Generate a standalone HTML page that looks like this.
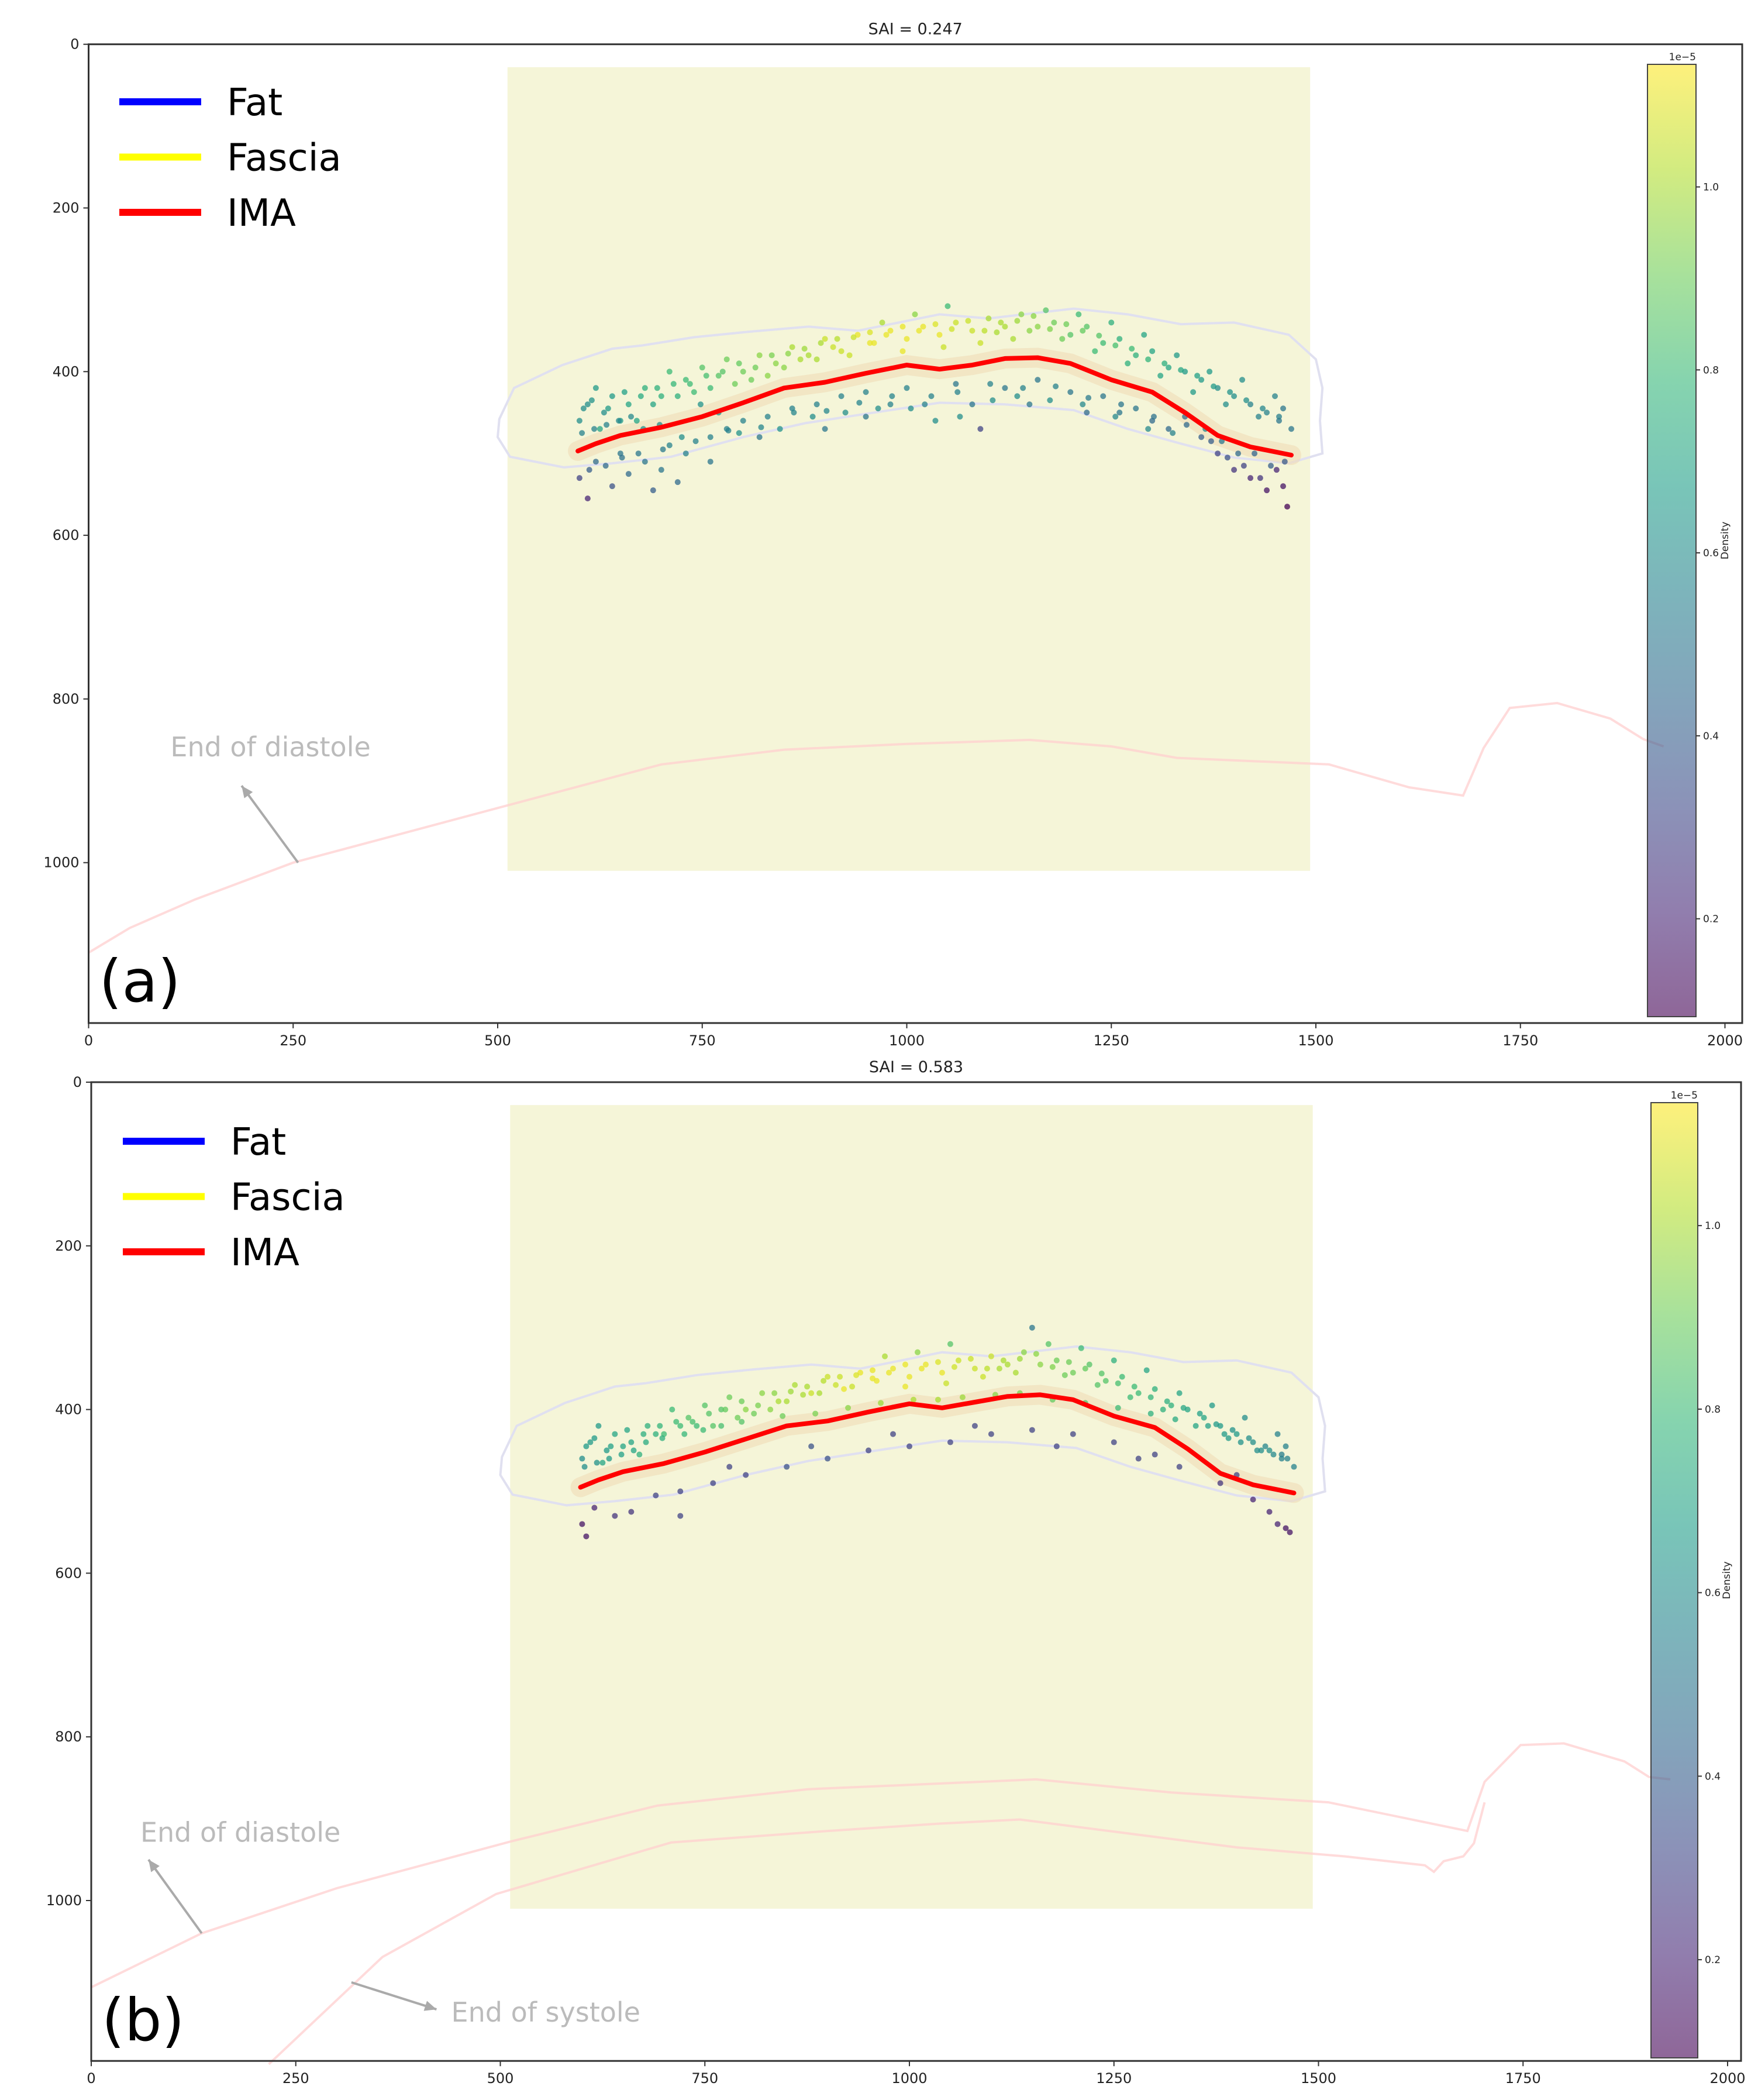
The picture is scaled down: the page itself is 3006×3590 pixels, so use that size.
<!DOCTYPE html>
<html><head><meta charset="utf-8"><style>
html,body{margin:0;padding:0;background:#fff;}
svg{display:block;font-family:"DejaVu Sans","Liberation Sans",sans-serif;}
</style></head><body>
<svg id="fig" width="3006" height="3590" viewBox="0 0 3006 3590" xmlns="http://www.w3.org/2000/svg"></svg>
<script>
// ---------- data ----------
const xTicks=[0,250,500,750,1000,1250,1500,1750,2000];
const yTicks=[0,200,400,600,800,1000];
const cbTicks=[0.2,0.4,0.6,0.8,1.0];
const cbRange=[0.093,1.134];
const titles=["SAI = 0.247","SAI = 0.583"];
const legendLabels=["Fat","Fascia","IMA"];
const legendColors=["#0000ff","#ffff00","#ff0000"];
const roiX=[512,1493], roiY=[28,1010];
// IMA line
const imaX=[598,620,650,700,750,800,850,900,950,1000,1040,1080,1120,1160,1200,1250,1300,1340,1380,1420,1470];
const imaYa=[497,488,478,468,455,438,420,413,402,392,397,392,384,383,390,410,425,450,478,492,502];
const imaYb=[495,486,476,466,452,436,420,414,403,393,398,391,384,382,388,408,422,448,478,492,502];
// outer contour
const contX=[502,520,579,640,677,740,810,880,940,1040,1100,1204,1270,1335,1400,1467,1500,1508,1505,1508,1467,1400,1335,1270,1204,1120,1040,960,876,800,712,640,581,515,500];
const contY=[458,420,392,372,368,358,351,345,350,330,335,323,330,342,340,355,385,420,460,500,512,505,488,470,447,440,438,450,463,480,504,512,517,504,480];
// end of diastole line
const diaXa=[0,50,130,250,400,512,700,850,1000,1150,1250,1330,1516,1614,1680,1705,1737,1795,1860,1900,1925];
const diaYa=[1110,1080,1045,1000,960,930,880,862,855,850,858,872,880,908,918,860,811,805,824,849,858];
const diaXb=[0,135,300,512,692,876,1155,1320,1512,1682,1703,1747,1800,1874,1904,1930];
const diaYb=[1106,1040,985,928,884,864,852,868,880,915,855,810,808,830,849,852];
const sysXb=[217,356,495,709,900,1037,1135,1283,1400,1532,1630,1641,1653,1677,1690,1703];
const sysYb=[1200,1069,992,929,915,906,901,920,935,946,957,965,952,946,930,880];
// scatter panel (a)
const aX=[600,610,620,630,640,660,680,700,710,730,750,760,780,800,820,840,860,880,900,920,940,960,980,1000,1020,1040,1060,1080,1100,1120,1140,1160,1180,1200,1220,1240,1260,1280,1300,1320,1340,1360,1380,1400,1420,1440,1460,1470,
650,690,720,770,810,850,890,930,970,1010,1050,1090,1130,1170,1210,1250,1290,1330,1370,1410,1450,
600,610,620,640,650,660,680,700,710,730,760,780,800,830,860,890,920,950,980,1000,1030,1060,1080,1090,1120,1160,1200,1240,1260,1280,1300,1320,1340,1360,1380,1400,1420,1440,1460,1465,900,950,1150,1220,760,820,690,720,
605,625,670,740,790,830,870,910,955,995,1045,1110,1150,1190,1230,1270,1310,1350,1390,1430,1455,
615,635,655,675,695,715,735,755,775,795,815,835,855,875,895,915,935,955,975,995,1015,1035,1055,1075,1095,1115,1135,1155,1175,1195,1215,1235,1255,1275,1295,1315,1335,1355,1375,1395,1415,1435,1455,
612,632,652,672,702,742,782,822,862,902,942,982,1022,1062,1102,1142,1182,1222,1262,1302,1342,1372,1392,1412,1432,1452,
603,618,633,648,663,678,698,725,748,770,795,845,885,925,965,1005,1035,1065,1105,1135,1175,1215,1255,1295,1325,1365,1385,1405,1425,1445,1462];
const aY=[460,440,420,450,430,440,420,430,400,410,395,420,385,400,380,390,370,380,360,375,355,365,350,360,345,355,340,350,335,345,330,345,340,355,345,365,360,380,375,395,400,410,420,430,440,450,445,470,
460,440,430,405,410,395,385,380,340,330,320,365,360,325,330,340,355,380,400,410,430,
530,555,510,540,500,525,510,520,490,500,480,470,460,455,445,440,430,425,440,420,430,415,440,470,420,410,425,430,450,445,460,470,455,480,500,520,530,545,540,565,470,455,440,450,510,480,545,535,
445,470,460,425,415,405,385,370,365,375,370,352,350,360,375,390,405,425,440,455,460,
435,445,425,430,420,415,415,405,400,390,395,380,378,372,365,360,358,352,355,345,350,342,348,338,350,340,338,332,348,342,350,356,368,372,385,390,398,405,418,425,435,445,455,
520,515,505,500,495,485,472,468,450,448,438,430,440,425,415,420,418,432,440,455,465,485,505,515,530,520,
475,470,465,460,455,470,465,480,440,450,475,470,455,450,445,445,460,455,435,430,435,440,455,470,475,470,485,500,500,515,510];
const aD=[.6,.6,.65,.6,.65,.7,.75,.75,.8,.8,.85,.8,.9,.9,.95,.95,1.0,1.0,1.05,1.05,1.1,1.1,1.1,1.1,1.1,1.1,1.05,1.05,1.0,1.0,.95,.95,.9,.85,.85,.8,.75,.75,.7,.7,.65,.65,.6,.6,.55,.55,.5,.5,
.65,.7,.75,.85,.9,.95,1.0,1.05,1.0,.95,.8,1.05,1.0,.85,.8,.75,.7,.65,.65,.6,.55,
.3,.2,.45,.35,.5,.45,.5,.5,.55,.55,.55,.55,.55,.55,.55,.55,.55,.55,.55,.55,.55,.5,.5,.3,.5,.5,.5,.5,.5,.5,.45,.45,.45,.4,.3,.25,.2,.15,.15,.1,.5,.5,.5,.45,.5,.5,.4,.45,
.6,.7,.7,.8,.9,.95,1.0,1.05,1.1,1.1,1.05,1.0,.95,.9,.8,.75,.7,.65,.6,.55,.5,
.62,.65,.68,.72,.75,.78,.8,.82,.85,.88,.9,.92,.95,.98,1.0,1.02,1.05,1.08,1.1,1.1,1.1,1.08,1.06,1.05,1.03,1.0,.98,.95,.93,.9,.88,.85,.82,.8,.77,.74,.71,.68,.65,.62,.6,.57,.54,
.4,.45,.48,.5,.52,.55,.55,.57,.57,.57,.56,.56,.55,.55,.55,.55,.55,.52,.5,.48,.45,.4,.35,.3,.25,.2,
.55,.55,.55,.58,.58,.6,.6,.6,.62,.62,.62,.62,.6,.6,.6,.6,.6,.6,.6,.6,.6,.58,.58,.58,.55,.55,.5,.45,.42,.4,.38];
// scatter panel (b)
const bX=[600,610,620,630,640,660,680,700,710,730,750,760,780,800,820,840,860,880,900,920,940,960,980,1000,1020,1040,1060,1080,1100,1120,1140,1160,1180,1200,1220,1240,1260,1280,1300,1320,1340,1360,1380,1400,1420,1440,1460,1470,
650,690,720,770,810,850,890,930,970,1010,1050,1090,1130,1150,1170,1210,1250,1290,1330,1370,1410,1450,
605,625,670,740,790,830,870,910,955,995,1045,1110,1190,1230,1270,1310,1350,1390,1430,1455,
600,605,615,640,660,690,720,760,800,850,900,950,1000,1050,1100,1150,1200,1250,1300,1330,1380,1420,1440,1460,1465,1400,1450,720,780,880,980,1080,1180,1280,
615,635,655,675,695,715,735,755,775,795,815,835,855,875,895,915,935,955,975,995,1015,1035,1055,1075,1095,1115,1135,1155,1175,1195,1215,1235,1255,1275,1295,1315,1335,1355,1375,1395,1415,1435,1455,
603,618,633,648,663,678,698,725,748,770,795,845,885,925,965,1005,1035,1065,1105,1135,1175,1215,1255,1295,1325,1365,1385,1405,1425,1445,1462];
const bY=[460,440,420,450,430,440,420,430,400,410,395,420,385,400,380,390,370,380,360,375,355,365,350,360,345,355,340,350,335,345,330,345,340,355,345,365,360,380,375,395,400,410,420,430,440,450,445,470,
445,430,420,400,405,390,380,372,335,330,320,360,355,300,320,325,340,352,380,395,410,430,
445,465,455,420,410,400,382,370,362,372,368,350,358,370,385,400,420,435,450,460,
540,555,520,530,525,505,500,490,480,470,460,450,445,440,430,425,430,440,455,470,490,510,525,545,550,480,540,530,470,445,430,420,445,460,
435,445,425,430,420,415,415,405,400,390,395,380,378,372,365,360,358,352,355,345,350,342,348,338,350,340,338,332,348,342,350,356,368,372,385,390,398,405,418,425,435,445,455,
470,465,460,455,450,440,435,430,425,420,415,408,405,398,392,388,388,385,382,380,388,392,398,405,412,420,430,440,450,455,460];
const bD=[.6,.65,.65,.65,.7,.7,.75,.8,.8,.85,.85,.85,.9,.95,.95,1.0,1.0,1.05,1.05,1.1,1.1,1.1,1.1,1.1,1.1,1.1,1.05,1.05,1.05,1.0,.95,.95,.9,.9,.85,.85,.8,.8,.75,.75,.7,.7,.65,.65,.6,.6,.55,.55,
.7,.75,.8,.85,.9,1.0,1.0,1.05,1.0,.95,.85,1.05,1.0,.5,.85,.8,.75,.7,.7,.65,.6,.55,
.65,.7,.75,.8,.9,.95,1.0,1.05,1.1,1.1,1.05,1.0,.9,.85,.8,.75,.7,.65,.6,.55,
.15,.15,.2,.25,.25,.3,.3,.3,.3,.35,.35,.3,.3,.3,.3,.3,.3,.3,.3,.3,.25,.2,.2,.15,.15,.3,.2,.3,.3,.35,.3,.3,.3,.3,
.65,.68,.7,.74,.77,.8,.82,.85,.88,.9,.92,.95,.98,1.0,1.02,1.05,1.08,1.1,1.1,1.1,1.1,1.08,1.06,1.05,1.03,1.0,.98,.95,.93,.9,.88,.85,.82,.8,.77,.74,.71,.68,.65,.62,.6,.57,.54,
.6,.62,.65,.68,.7,.72,.75,.78,.8,.82,.85,.9,.92,.95,.98,1.0,1.0,.98,.95,.92,.88,.85,.8,.75,.72,.68,.65,.62,.6,.58,.55];

// ---------- helpers ----------
const NS="http://www.w3.org/2000/svg";
const svg=document.getElementById('fig');
function mk(tag,attrs,parent){const e=document.createElementNS(NS,tag);for(const k in attrs)e.setAttribute(k,attrs[k]);(parent||svg).appendChild(e);return e;}
const VIR=[[68,1,84],[72,40,120],[62,74,137],[49,104,142],[38,130,142],[31,158,137],[53,183,121],[109,205,89],[180,222,44],[253,231,37]];
function viridis(t){t=Math.max(0,Math.min(1,t));const p=t*(VIR.length-1);const i=Math.min(VIR.length-2,Math.floor(p));const f=p-i;const c=VIR[i].map((v,k)=>Math.round(v+(VIR[i+1][k]-v)*f));return `rgb(${c[0]},${c[1]},${c[2]})`;}
function pathOf(xs,ys,sx,sy){return xs.map((x,i)=>(i?'L':'M')+sx(x).toFixed(1)+','+sy(ys[i]).toFixed(1)).join(' ');}

const panels=[
 {L:151.5,T:75.7,R:2979,cb:[2817,2900,110,1738],tag:"(a)",tagY:1712,sX:aX,sY:aY,sD:aD,imaY:imaYa,leg:[204,174]},
 {L:156,T:1850,R:2977,cb:[2823,2903,1885,3518],tag:"(b)",tagY:3488,sX:bX,sY:bY,sD:bD,imaY:imaYb,leg:[210,1951]}
];
const K=1.399, YMAX=1196;

panels.forEach((P,pi)=>{
  const g=mk('g',{});
  
  
  const sx=v=>P.L+v*K, sy=v=>P.T+v*K;
  const B=sy(YMAX);
  const r=mk('rect',{x:sx(roiX[0]),y:sy(roiY[0]),width:sx(roiX[1])-sx(roiX[0]),height:sy(roiY[1])-sy(roiY[0]),fill:'#f5f5d8'},g);
  
  
  const c=mk('path',{d:pathOf(contX,contY,sx,sy)+' Z',fill:'none',stroke:'#e0e0f0',"stroke-width":4},g);
  
  
  const dx=pi?diaXb:diaXa, dy=pi?diaYb:diaYa;
  const d=mk('path',{d:pathOf(dx,dy,sx,sy),fill:'none',stroke:'#ffcfcf',"stroke-width":4,opacity:0.75},g);
  
  
  if(pi){
    const s=mk('path',{d:pathOf(sysXb,sysYb,sx,sy),fill:'none',stroke:'#ffcfcf',"stroke-width":4,opacity:0.75},g);
    
    
  }
  const band=mk('path',{d:pathOf(imaX,P.imaY,sx,sy),fill:'none',stroke:'#f0dcb8',"stroke-width":34,opacity:0.6,"stroke-linecap":"round"},g);
  
  
  P.sX.forEach((x,i)=>{
    const t=(P.sD[i]-cbRange[0])/(cbRange[1]-cbRange[0]);
    const pt=mk('circle',{cx:sx(x),cy:sy(P.sY[i]),r:5,fill:viridis(t),"fill-opacity":0.75},g);
    
    
  });
  const ima=mk('path',{d:pathOf(imaX,P.imaY,sx,sy),fill:'none',stroke:'#ff0000',"stroke-width":8,"stroke-linejoin":"round","stroke-linecap":"round"},g);
  
  
  const fr=mk('rect',{x:P.L,y:P.T,width:P.R-P.L,height:B-P.T,fill:'none',stroke:'#333',"stroke-width":3},g);
  
  
  xTicks.forEach(v=>{
    const x=sx(v);
    const tk=mk('line',{x1:x,y1:B,x2:x,y2:B+9,stroke:'#333',"stroke-width":2},g);
    
    
    const t=mk('text',{x:x,y:B+38,"font-size":24,"text-anchor":"middle",fill:'#222'},g);
    t.textContent=v;
    
    
  });
  yTicks.forEach(v=>{
    const y=sy(v);
    const tk=mk('line',{x1:P.L-9,y1:y,x2:P.L,y2:y,stroke:'#333',"stroke-width":2},g);
    
    
    const t=mk('text',{x:P.L-16,y:y+8,"font-size":24,"text-anchor":"end",fill:'#222'},g);
    t.textContent=v;
    
    
  });
  const ti=mk('text',{x:(P.L+P.R)/2,y:P.T-17,"font-size":27,"text-anchor":"middle",fill:'#222'},g);
  ti.textContent=titles[pi];
  
  
  legendLabels.forEach((lab,i)=>{
    const y=P.leg[1]+i*94.5;
    const ln=mk('line',{x1:P.leg[0],y1:y,x2:P.leg[0]+140,y2:y,stroke:legendColors[i],"stroke-width":12},g);
    
    
    const t=mk('text',{x:P.leg[0]+184,y:y+23,"font-size":64,fill:'#000'},g);
    t.textContent=lab;
    
    
  });
  const tg=mk('text',{x:P.L+18,y:P.tagY,"font-size":100,fill:'#000'},g);
  tg.textContent=P.tag;
  
  
  // annotations: [text, arrow-from, arrow-to, text-pos]
  const ann=pi?[["End of diastole",[135,1040],[70,950],[60,928]],["End of systole",[318,1100],[422,1133],[440,1148]]]
              :[["End of diastole",[256,1000],[187,906],[100,870]]];
  ann.forEach(a=>{
    const [txt,from,to,tp]=a;
    const ar=mk('line',{x1:sx(from[0]),y1:sy(from[1]),x2:sx(to[0]),y2:sy(to[1]),stroke:'#aaa',"stroke-width":4},g);
    
    
    const ang=Math.atan2(sy(to[1])-sy(from[1]),sx(to[0])-sx(from[0]));
    const hx=sx(to[0]),hy=sy(to[1]),L=20,W=9;
    const p1=[hx-L*Math.cos(ang)+W*Math.sin(ang),hy-L*Math.sin(ang)-W*Math.cos(ang)];
    const p2=[hx-L*Math.cos(ang)-W*Math.sin(ang),hy-L*Math.sin(ang)+W*Math.cos(ang)];
    const hd=mk('polygon',{points:`${hx},${hy} ${p1} ${p2}`,fill:'#aaa'},g);
    
    
    const t=mk('text',{x:sx(tp[0]),y:sy(tp[1]),"font-size":46,fill:'#bbb'},g);
    t.textContent=txt;
    
    
  });
  const [cx0,cx1,cy0,cy1]=P.cb;
  const gid='cbg'+pi;
  const defs=mk('defs',{},g);
  const lg=mk('linearGradient',{id:gid,x1:0,y1:1,x2:0,y2:0},defs);
  for(let i=0;i<=9;i++){mk('stop',{offset:(i/9),"stop-color":viridis(i/9),"stop-opacity":0.6},lg);}
  const cb=mk('rect',{x:cx0,y:cy0,width:cx1-cx0,height:cy1-cy0,fill:`url(#${gid})`,stroke:'#444',"stroke-width":2},g);
  
  
  const cy=v=>cy0+(cbRange[1]-v)/(cbRange[1]-cbRange[0])*(cy1-cy0);
  cbTicks.forEach(v=>{
    const y=cy(v);
    const tk=mk('line',{x1:cx1,y1:y,x2:cx1+7,y2:y,stroke:'#333',"stroke-width":2},g);
    
    
    const t=mk('text',{x:cx1+12,y:y+6,"font-size":17,fill:'#222'},g);
    t.textContent=v.toFixed(1);
    
    
  });
  const ex=mk('text',{x:cx1,y:cy0-7,"font-size":17,"text-anchor":"end",fill:'#222'},g);
  ex.textContent='1e\u22125';
  
  
  const lbX=cx1+55, lbY=(cy0+cy1)/2;
  const lb=mk('text',{x:lbX,y:lbY,"font-size":17,"text-anchor":"middle",fill:'#222',transform:`rotate(-90 ${lbX} ${lbY})`},g);
  lb.textContent='Density';
  
  
});
</script>
</body></html>
